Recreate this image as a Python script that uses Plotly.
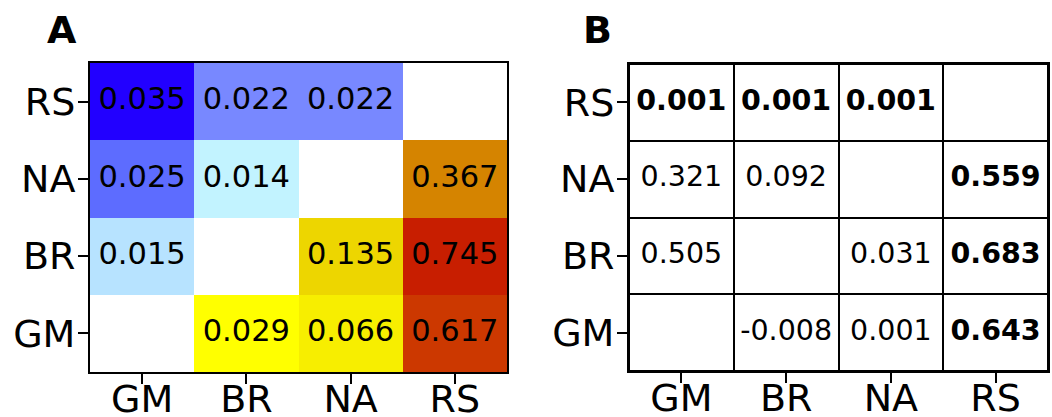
import plotly.graph_objects as go

cats = ["GM", "BR", "NA", "RS"]  # x order left->right, y order bottom->top

# Panel A matrix, rows in y order (GM, BR, NA, RS), columns in x order
a_rows = {
    "GM": [None, 0.029, 0.066, 0.617],
    "BR": [0.015, None, 0.135, 0.745],
    "NA": [0.025, 0.014, None, 0.367],
    "RS": [0.035, 0.022, 0.022, None],
}
# Panel B matrix
b_rows = {
    "GM": [None, -0.008, 0.001, 0.643],
    "BR": [0.505, None, 0.031, 0.683],
    "NA": [0.321, 0.092, None, 0.559],
    "RS": [0.001, 0.001, 0.001, None],
}
b_bold = {
    "GM": [False, False, False, True],
    "BR": [False, False, False, True],
    "NA": [False, False, False, True],
    "RS": [True, True, True, False],
}

blue_min, blue_max = 0.014, 0.035
blue_stops = [(0.014, "#C2F3FF"), (0.015, "#B7E3FF"), (0.022, "#7888FF"),
              (0.025, "#5D6CFF"), (0.035, "#2200FF")]
red_min, red_max = 0.029, 0.745
red_stops = [(0.029, "#FFFF00"), (0.066, "#F7EE00"), (0.135, "#EDD600"),
             (0.367, "#D58400"), (0.617, "#CC3800"), (0.745, "#C81E00")]


def scale(stops, lo, hi):
    return [[(v - lo) / (hi - lo), c] for v, c in stops]


z_blue, z_red = [], []
for i, r in enumerate(cats):
    rb, rr = [], []
    for j, c in enumerate(cats):
        v = a_rows[r][j]
        rb.append(v if (v is not None and i > j) else None)
        rr.append(v if (v is not None and i < j) else None)
    z_blue.append(rb)
    z_red.append(rr)

fig = go.Figure()
fig.add_trace(go.Heatmap(x=cats, y=cats, z=z_blue, colorscale=scale(blue_stops, blue_min, blue_max),
                         zmin=blue_min, zmax=blue_max, showscale=False, xaxis="x", yaxis="y",
                         hoverongaps=False))
fig.add_trace(go.Heatmap(x=cats, y=cats, z=z_red, colorscale=scale(red_stops, red_min, red_max),
                         zmin=red_min, zmax=red_max, showscale=False, xaxis="x", yaxis="y",
                         hoverongaps=False))

# text A
tx, ty, tt = [], [], []
for r in cats:
    for j, c in enumerate(cats):
        v = a_rows[r][j]
        if v is not None:
            tx.append(c); ty.append(r); tt.append(f"{v:.3f}")
fig.add_trace(go.Scatter(x=tx, y=ty, text=tt, mode="text", xaxis="x", yaxis="y",
                         textfont=dict(family="DejaVu Sans", size=30.5, color="black"),
                         showlegend=False, hoverinfo="skip"))

# Panel B: black background + white cells with gaps
ones = [[1 for _ in cats] for _ in cats]
fig.add_trace(go.Heatmap(x=cats, y=cats, z=ones, colorscale=[[0, "black"], [1, "black"]],
                         showscale=False, xaxis="x2", yaxis="y2", hoverinfo="skip"))
fig.add_trace(go.Heatmap(x=cats, y=cats, z=ones, colorscale=[[0, "white"], [1, "white"]],
                         showscale=False, xaxis="x2", yaxis="y2", xgap=2, ygap=2, hoverinfo="skip"))
bx, by, bt = [], [], []
for r in cats:
    for j, c in enumerate(cats):
        v = b_rows[r][j]
        if v is not None:
            s = f"{v:.3f}"
            if b_bold[r][j]:
                s = f"<b>{s}</b>"
            bx.append(c); by.append(r); bt.append(s)
fig.add_trace(go.Scatter(x=bx, y=by, text=bt, mode="text", xaxis="x2", yaxis="y2",
                         textfont=dict(family="DejaVu Sans", size=28.5, color="black"),
                         showlegend=False, hoverinfo="skip"))

W, H = 1052, 417
ax_common = dict(type="category", showline=True, linecolor="black", linewidth=2, mirror=True,
                 ticks="outside", ticklen=10, tickwidth=2, tickcolor="black",
                 showgrid=False, zeroline=False, automargin=False,
                 tickfont=dict(family="DejaVu Sans", size=38, color="black"),
                 categoryorder="array", categoryarray=cats)
x_extra = dict(ticklabelstandoff=-18)
y_extra = dict(ticklabelstandoff=-5)

fig.update_layout(
    width=W, height=H, margin=dict(l=0, r=0, t=0, b=0),
    paper_bgcolor="white", plot_bgcolor="white", showlegend=False,
    xaxis=dict(domain=[90 / W, 507 / W], anchor="y", **ax_common, **x_extra),
    yaxis=dict(domain=[1 - 372 / H, 1 - 63 / H], anchor="x", **ax_common, **y_extra),
    xaxis2=dict(domain=[629 / W, 1048 / W], anchor="y2", **ax_common, **x_extra),
    yaxis2=dict(domain=[1 - 371 / H, 1 - 64 / H], anchor="x2", **ax_common, **y_extra),
    annotations=[
        dict(text="<b>A</b>", x=62 / W, y=1 - 30 / H, xref="paper", yref="paper",
             showarrow=False, xanchor="center", yanchor="middle",
             font=dict(family="DejaVu Sans", size=38, color="black")),
        dict(text="<b>B</b>", x=597 / W, y=1 - 30 / H, xref="paper", yref="paper",
             showarrow=False, xanchor="center", yanchor="middle",
             font=dict(family="DejaVu Sans", size=38, color="black")),
    ],
)

fig.write_html("out.html", config={"displayModeBar": False},
               post_script="document.body.style.margin='0';document.body.style.overflow='hidden';")
